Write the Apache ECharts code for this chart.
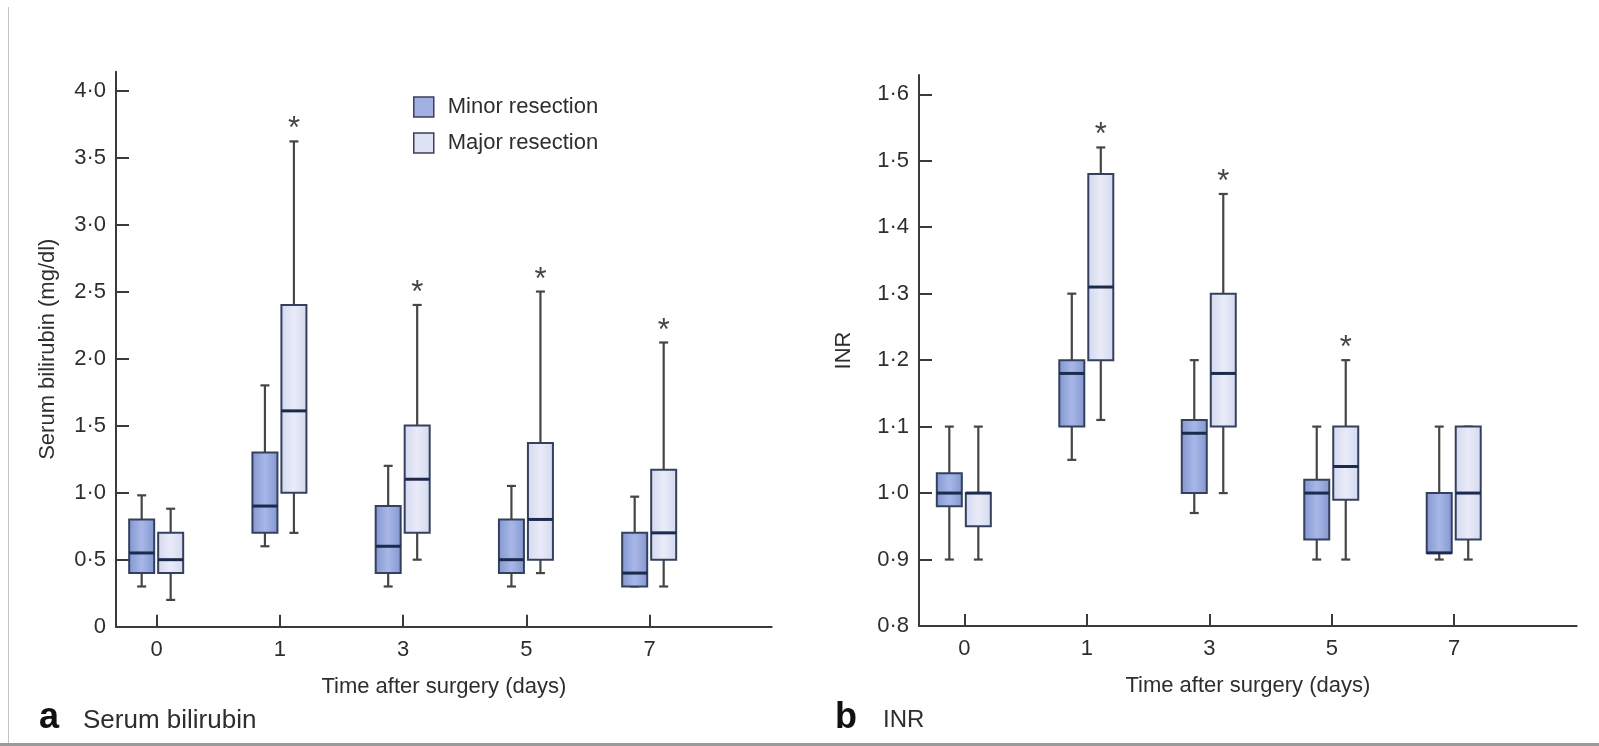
<!DOCTYPE html>
<html>
<head>
<meta charset="utf-8">
<script src="https://cdn.jsdelivr.net/npm/echarts@6/dist/echarts.min.js"></script>
<style>
  html, body { margin: 0; padding: 0; background: #fff; }
  #main { width: 1599px; height: 746px; }
</style>
</head>
<body>
<div id="main"></div>
<script>
// time points (days after surgery)
var days = ['0', '1', '3', '5', '7'];

// each row: [min, q1, median, q3, max]
var biliMinor = [
  [0.30, 0.40, 0.55, 0.80, 0.98],
  [0.60, 0.70, 0.90, 1.30, 1.80],
  [0.30, 0.40, 0.60, 0.90, 1.20],
  [0.30, 0.40, 0.50, 0.80, 1.05],
  [0.30, 0.30, 0.40, 0.70, 0.97]
];
var biliMajor = [
  [0.20, 0.40, 0.50, 0.70, 0.88],
  [0.70, 1.00, 1.61, 2.40, 3.62],
  [0.50, 0.70, 1.10, 1.50, 2.40],
  [0.40, 0.50, 0.80, 1.37, 2.50],
  [0.30, 0.50, 0.70, 1.17, 2.12]
];
var biliSig = [0, 1, 1, 1, 1];

var inrMinor = [
  [0.90, 0.98, 1.00, 1.03, 1.10],
  [1.05, 1.10, 1.18, 1.20, 1.30],
  [0.97, 1.00, 1.09, 1.11, 1.20],
  [0.90, 0.93, 1.00, 1.02, 1.10],
  [0.90, 0.91, 0.91, 1.00, 1.10]
];
var inrMajor = [
  [0.90, 0.95, 1.00, 1.00, 1.10],
  [1.11, 1.20, 1.31, 1.48, 1.52],
  [1.00, 1.10, 1.18, 1.30, 1.45],
  [0.90, 0.99, 1.04, 1.10, 1.20],
  [0.90, 0.93, 1.00, 1.10, 1.10]
];
var inrSig = [0, 1, 1, 1, 0];

var biliTicks = [0, 0.5, 1, 1.5, 2, 2.5, 3, 3.5, 4];
var inrTicks = [0.8, 0.9, 1.0, 1.1, 1.2, 1.3, 1.4, 1.5, 1.6];

var FONT = '"Liberation Sans", Arial, sans-serif';
var TXT = '#2e2e2e';

var minorFill = new echarts.graphic.LinearGradient(0, 0, 1, 0, [
  { offset: 0, color: '#8196cf' },
  { offset: 0.5, color: '#a9b7e7' },
  { offset: 1, color: '#8196cf' }
]);
var majorFill = new echarts.graphic.LinearGradient(0, 0, 1, 0, [
  { offset: 0, color: '#d3d8ee' },
  { offset: 0.5, color: '#e9ebf8' },
  { offset: 1, color: '#d3d8ee' }
]);

function dotFmt(v) {
  if (v === 0) return '0';
  return v.toFixed(1).replace('.', '·');
}

function boxSeries(name, rows, sig, idx, offset, fill, legendColor) {
  return {
    name: name,
    type: 'custom',
    xAxisIndex: idx,
    yAxisIndex: idx,
    itemStyle: { color: legendColor, borderColor: '#34405e', borderWidth: 1.5 },
    encode: { x: 0, y: [1, 2, 3, 4, 5] },
    data: rows.map(function (r, i) { return [i].concat(r).concat([sig ? sig[i] : 0]); }),
    renderItem: function (params, api) {
      var x = api.value(0);
      var cx = api.coord([x, api.value(1)])[0] + offset;
      var yMin = api.coord([x, api.value(1)])[1];
      var yQ1 = api.coord([x, api.value(2)])[1];
      var yMed = api.coord([x, api.value(3)])[1];
      var yQ3 = api.coord([x, api.value(4)])[1];
      var yMax = api.coord([x, api.value(5)])[1];
      var w = 25, cap = 9;
      var wStyle = { stroke: '#454545', lineWidth: 2.2 };
      var kids = [
        { type: 'line', shape: { x1: cx, y1: yQ3, x2: cx, y2: yMax }, style: wStyle },
        { type: 'line', shape: { x1: cx - cap / 2, y1: yMax, x2: cx + cap / 2, y2: yMax }, style: wStyle },
        { type: 'line', shape: { x1: cx, y1: yQ1, x2: cx, y2: yMin }, style: wStyle },
        { type: 'line', shape: { x1: cx - cap / 2, y1: yMin, x2: cx + cap / 2, y2: yMin }, style: wStyle },
        { type: 'rect', shape: { x: cx - w / 2, y: yQ3, width: w, height: yQ1 - yQ3 },
          style: { fill: fill, stroke: '#34405e', lineWidth: 2 } },
        { type: 'line', shape: { x1: cx - w / 2, y1: yMed, x2: cx + w / 2, y2: yMed },
          style: { stroke: '#1c2a4c', lineWidth: 3 } }
      ];
      if (api.value(6)) {
        kids.push({ type: 'text', style: {
          text: '*', x: cx, y: yMax + 4, align: 'center', verticalAlign: 'bottom',
          fontSize: 31, fontFamily: FONT, fill: '#444'
        } });
      }
      return { type: 'group', children: kids };
    }
  };
}

function xAxisOf(idx, min, max) {
  return {
    type: 'value', gridIndex: idx, min: min, max: max,
    name: 'Time after surgery (days)', nameLocation: 'middle', nameGap: 49,
    nameTextStyle: { fontSize: 22, color: TXT, fontFamily: FONT },
    splitLine: { show: false },
    axisLine: { onZero: false, lineStyle: { color: '#3a3a3a', width: 2 } },
    axisTick: { inside: true, length: 12, customValues: [0, 1, 2, 3, 4], lineStyle: { color: '#3a3a3a', width: 2 } },
    axisLabel: { customValues: [0, 1, 2, 3, 4], margin: 12, fontSize: 22, color: TXT, fontFamily: FONT,
      formatter: function (v) { return days[Math.round(v)]; } }
  };
}

function yAxisOf(idx, name, min, max, ticks, gap) {
  return {
    type: 'value', gridIndex: idx, min: min, max: max,
    name: name, nameLocation: 'middle', nameGap: gap,
    nameTextStyle: { fontSize: 22, color: TXT, fontFamily: FONT },
    splitLine: { show: false },
    axisLine: { show: true, onZero: false, lineStyle: { color: '#3a3a3a', width: 2 } },
    axisTick: { show: true, inside: true, length: 13, customValues: ticks, lineStyle: { color: '#3a3a3a', width: 2 } },
    axisLabel: { customValues: ticks, margin: 10, fontSize: 22, color: TXT, fontFamily: FONT, formatter: dotFmt }
  };
}

var chart = echarts.init(document.getElementById('main'));
chart.setOption({
  backgroundColor: '#fff',
  animation: false,
  textStyle: { fontFamily: FONT },
  title: [
    { text: 'a', left: 34, top: 695, textStyle: { fontSize: 36, fontWeight: 'bold', color: '#111', fontFamily: FONT } },
    { text: 'Serum bilirubin', left: 78, top: 703, textStyle: { fontSize: 26, fontWeight: 'normal', color: TXT, fontFamily: FONT } },
    { text: 'b', left: 830, top: 695, textStyle: { fontSize: 36, fontWeight: 'bold', color: '#111', fontFamily: FONT } },
    { text: 'INR', left: 878, top: 703, textStyle: { fontSize: 24, fontWeight: 'normal', color: TXT, fontFamily: FONT } }
  ],
  legend: {
    left: 408, top: 91, orient: 'vertical', itemWidth: 20, itemHeight: 20, itemGap: 14,
    icon: 'rect',
    textStyle: { fontSize: 22, color: TXT, fontFamily: FONT, padding: [0, 0, 0, 9] },
    data: [
      { name: 'Minor resection', itemStyle: { color: '#a3b0e2', borderColor: '#3a3f5a', borderWidth: 1.5 } },
      { name: 'Major resection', itemStyle: { color: '#dfe2f4', borderColor: '#3a3f5a', borderWidth: 1.5 } }
    ]
  },
  grid: [
    { left: 116, top: 71.7, width: 655.7, height: 555 },
    { left: 919, top: 75, width: 657.7, height: 551 }
  ],
  xAxis: [xAxisOf(0, -0.33, 4.99), xAxisOf(1, -0.37, 5.0)],
  yAxis: [
    yAxisOf(0, 'Serum bilirubin (mg/dl)', 0, 4.14, biliTicks, 57),
    yAxisOf(1, 'INR', 0.8, 1.629, inrTicks, 64)
  ],
  graphic: [
    { type: 'line', shape: { x1: 8.5, y1: 7, x2: 8.5, y2: 746 }, style: { stroke: '#c4c4c4', lineWidth: 1 } },
    { type: 'line', shape: { x1: 0, y1: 744.5, x2: 1599, y2: 744.5 }, style: { stroke: '#9a9a9a', lineWidth: 3 } }
  ],
  series: [
    boxSeries('Minor resection', biliMinor, null, 0, -15, minorFill, '#a3b0e2'),
    boxSeries('Major resection', biliMajor, biliSig, 0, 14, majorFill, '#dfe2f4'),
    boxSeries('Minor resection', inrMinor, null, 1, -15, minorFill, '#a3b0e2'),
    boxSeries('Major resection', inrMajor, inrSig, 1, 14, majorFill, '#dfe2f4')
  ]
});
</script>
</body>
</html>
